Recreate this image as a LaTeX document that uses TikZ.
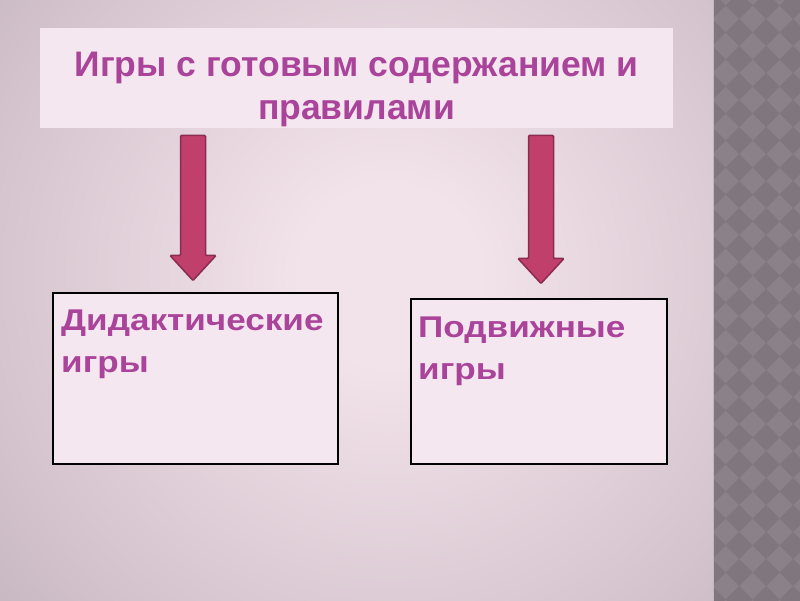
\documentclass[tikz,border=0pt]{standalone}
\usepackage{fontspec}
\setmainfont{Liberation Sans}
\newfontfamily\widefont[FakeStretch=1.17]{Liberation Sans}
\usetikzlibrary{calc}
\definecolor{bgin}{HTML}{F2E2EA}
\definecolor{bgmid}{HTML}{D5C4CD}
\definecolor{bgfar}{HTML}{BCAEB7}
\definecolor{bgedge}{HTML}{AA9FA7}
\definecolor{bgout}{HTML}{9B9098}
\definecolor{stripbase}{HTML}{8A8288}
\definecolor{stripdark}{HTML}{80777E}
\definecolor{cardfill}{HTML}{F5E7EF}
\definecolor{slidetext}{HTML}{AA449A}
\definecolor{arrowfill}{HTML}{C13F6B}
\definecolor{arrowline}{HTML}{8A2B51}
\pgfdeclareradialshading{slidebg}{\pgfpointorigin}{color(0bp)=(bgin); color(4bp)=(bgin);
  color(18bp)=(bgmid); color(27bp)=(bgfar); color(35bp)=(bgedge); color(45bp)=(bgout); color(50bp)=(bgout)}
\newcommand\fatarrow[2]{%
  \draw[bigarrow] ($(#1)+(-12.5,0)$) -- ($(#1)+(12.5,0)$) -- ($(#2)+(12.5,-25)$)
    -- ($(#2)+(23,-25)$) -- (#2) -- ($(#2)+(-23,-25)$) -- ($(#2)+(-12.5,-25)$) -- cycle;}
\begin{document}
\begin{tikzpicture}[x=1pt, y=-1pt,
                    card/.style={draw=black, line width=2pt, fill=cardfill, inner sep=0pt},
                    cardtext/.style={anchor=north west, inner sep=0pt, align=left, text=slidetext,
                                     font=\widefont\bfseries\fontsize{30}{42}\selectfont},
                    bigarrow/.style={draw=arrowline, fill=arrowfill, line width=1.5pt, rounded corners=1pt}]
    % background
    \fill[bgout] (0,0) rectangle (800,600);
    \begin{scope}
        \clip (0,0) rectangle (713,600);
        \shade[shading=slidebg] (390,275) circle (560);
    \end{scope}
    \fill[stripbase] (713,0) rectangle (800,600);
    \begin{scope}
        \clip (713,0) rectangle (800,600);
        \foreach \i in {0,...,4}
            \foreach \j in {0,...,23}
                \fill[stripdark] (698.5+27*\i,5+27*\j) -- ++(13.5,-13.5) -- ++(13.5,13.5) -- ++(-13.5,13.5) -- cycle;
    \end{scope}
    \draw[white!45!stripbase, line width=1pt] (713.5,0) -- (713.5,600);

    \node[fill=cardfill, minimum width=633, minimum height=100, inner sep=0pt] (title) at (356.5,78) {};
    \node[align=center, inner sep=0pt, text=slidetext, font=\bfseries\fontsize{35.5}{43}\selectfont]
          (titletext) at ($(title.center)+(0,11)$) {Игры с готовым содержанием и\\правилами};
    \node[card, minimum width=285, minimum height=170] (did) at (195.5,378) {};
    \node[card, minimum width=256, minimum height=164] (mob) at (539,381) {};
    \node[cardtext] (didtext) at ($(did.north west)+(9,17)$) {Дидактические\\игры};
    \node[cardtext] (mobtext) at ($(mob.north west)+(8,18)$) {Подвижные\\игры};

    \coordinate (a1) at (193,135);
    \coordinate (b1) at (193,280);
    \coordinate (a2) at (541,135);
    \coordinate (b2) at (541,283);
    \fatarrow{a1}{b1}
    \fatarrow{a2}{b2}
\end{tikzpicture}
\end{document}
